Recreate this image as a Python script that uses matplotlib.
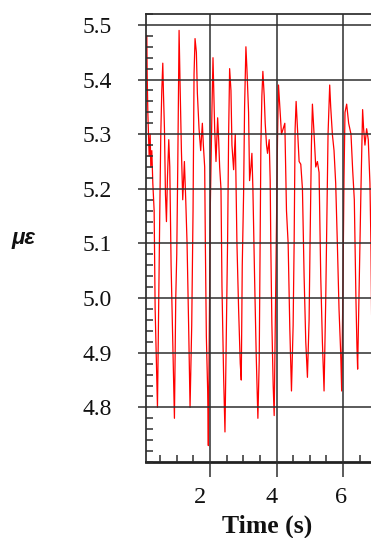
import matplotlib
matplotlib.use("Agg")
import matplotlib.pyplot as plt
import matplotlib.transforms as mtransforms
from matplotlib.ticker import MultipleLocator, FormatStrFormatter

# ---- data ----
time_s = [0.10, 0.11, 0.13, 0.15, 0.17, 0.20, 0.22, 0.25, 0.28, 0.32, 0.35, 0.39, 0.42, 0.45, 0.49,
          0.52, 0.55, 0.58, 0.60, 0.63, 0.66, 0.69, 0.72, 0.76, 0.79, 0.83, 0.88, 0.93, 0.97, 1.00,
          1.03, 1.07, 1.10, 1.14, 1.18, 1.23, 1.27, 1.31, 1.36, 1.40, 1.45, 1.49, 1.52, 1.55, 1.59,
          1.62, 1.67, 1.72, 1.77, 1.80, 1.84, 1.86, 1.89, 1.93, 1.95, 1.99, 2.01, 2.06, 2.09, 2.11,
          2.14, 2.18, 2.23, 2.26, 2.29, 2.33, 2.36, 2.41, 2.45, 2.49, 2.53, 2.56, 2.59, 2.63, 2.66,
          2.71, 2.76, 2.81, 2.86, 2.91, 2.94, 2.97, 3.01, 3.04, 3.08, 3.11, 3.16, 3.19, 3.23, 3.26,
          3.29, 3.34, 3.39, 3.44, 3.48, 3.51, 3.53, 3.56, 3.59, 3.63, 3.66, 3.70, 3.73, 3.78, 3.81,
          3.83, 3.86, 3.90, 3.93, 3.98, 4.03, 4.06, 4.10, 4.15, 4.20, 4.25, 4.30, 4.35, 4.40, 4.43,
          4.45, 4.50, 4.53, 4.56, 4.59, 4.63, 4.68, 4.73, 4.78, 4.83, 4.88, 4.93, 4.98, 5.01, 5.05,
          5.08, 5.13, 5.18, 5.23, 5.28, 5.33, 5.38, 5.43, 5.48, 5.51, 5.55, 5.60, 5.63, 5.68, 5.73,
          5.78, 5.83, 5.88, 5.93, 5.96, 6.00, 6.03, 6.06, 6.11, 6.17, 6.24, 6.29, 6.34, 6.39, 6.42,
          6.44, 6.49, 6.54, 6.59, 6.62, 6.66, 6.71, 6.76, 6.81, 6.84, 6.86]
strain = [5.48, 5.41, 5.34, 5.30, 5.26, 5.30, 5.24, 5.27, 5.21, 5.16, 4.98, 4.88, 4.80, 4.96, 5.16,
          5.30, 5.38, 5.43, 5.375, 5.31, 5.19, 5.14, 5.22, 5.29, 5.24, 5.06, 4.92, 4.78, 5.00, 5.08,
          5.24, 5.49, 5.39, 5.27, 5.18, 5.25, 5.18, 5.10, 4.94, 4.80, 4.95, 5.16, 5.41, 5.475, 5.45,
          5.375, 5.31, 5.27, 5.32, 5.28, 5.24, 5.10, 4.93, 4.83, 4.73, 5.01, 5.17, 5.35, 5.44, 5.39,
          5.31, 5.25, 5.33, 5.29, 5.24, 5.20, 5.02, 4.855, 4.755, 4.93, 5.11, 5.30, 5.42, 5.38, 5.28,
          5.235, 5.30, 5.10, 4.98, 4.88, 4.85, 5.06, 5.19, 5.35, 5.46, 5.42, 5.34, 5.215, 5.24, 5.265,
          5.20, 5.04, 4.895, 4.78, 4.885, 5.11, 5.28, 5.37, 5.415, 5.37, 5.32, 5.28, 5.265, 5.29, 5.215,
          5.09, 4.955, 4.84, 4.785, 5.045, 5.29, 5.39, 5.35, 5.30, 5.31, 5.32, 5.16, 5.10, 4.945, 4.875,
          4.83, 4.95, 5.10, 5.31, 5.36, 5.31, 5.25, 5.245, 5.20, 5.04, 4.92, 4.855, 4.96, 5.105, 5.28,
          5.355, 5.30, 5.24, 5.25, 5.23, 5.04, 4.92, 4.83, 4.995, 5.13, 5.30, 5.39, 5.35, 5.30, 5.27,
          5.21, 5.10, 4.98, 4.90, 4.83, 5.03, 5.22, 5.34, 5.355, 5.32, 5.30, 5.235, 5.18, 4.995, 4.91,
          4.87, 5.04, 5.20, 5.345, 5.31, 5.28, 5.31, 5.29, 5.21, 5.10, 4.97]

y_ticks = [4.8, 4.9, 5.0, 5.1, 5.2, 5.3, 5.4, 5.5]
x_ticks = [2, 4, 6]
x_label = "Time (s)"
y_label = "με"

# ---- figure ----
W, H = 371, 538
fig = plt.figure(figsize=(W / 100, H / 100), dpi=100)
left_px, right_px, top_px, bottom_px = 145.5, 371, 14, 462
ax = fig.add_axes([left_px / W, 1 - bottom_px / H, (right_px - left_px) / W, (bottom_px - top_px) / H])

ax.plot(time_s, strain, color="red", lw=0.9, zorder=1)

px_per_s = 33.25
x0 = 0.06
ax.set_xlim(x0, x0 + (right_px - left_px) / px_per_s)
ax.set_ylim(4.70, 5.52)

ax.set_xticks(x_ticks)
ax.set_yticks(y_ticks)
ax.xaxis.set_minor_locator(MultipleLocator(0.5))
ax.yaxis.set_minor_locator(MultipleLocator(0.02))
ax.yaxis.set_major_formatter(FormatStrFormatter("%.1f"))
ax.xaxis.set_major_formatter(FormatStrFormatter("%d"))

ax.set_axisbelow(False)
ax.grid(True, which="major", color="#2e2e2e", lw=1.1, zorder=3)

ax.spines["right"].set_visible(False)
for s in ("left", "top"):
    ax.spines[s].set_linewidth(1.2)
    ax.spines[s].set_color("#222222")
ax.spines["bottom"].set_linewidth(2.0)
ax.spines["bottom"].set_color("#222222")

ax.tick_params(axis="x", which="major", direction="out", length=11, width=1.1,
               color="#2e2e2e", pad=7, labelsize=17.5)
ax.tick_params(axis="x", which="minor", direction="in", length=5, width=1.1, color="#2e2e2e")
ax.tick_params(axis="y", which="major", direction="out", length=6, width=1.1,
               color="#2e2e2e", pad=18, labelsize=17)
ax.tick_params(axis="y", which="minor", direction="in", length=5, width=1.1, color="#2e2e2e")
ax.tick_params(top=False, right=False, which="both")

for lab in ax.get_xticklabels() + ax.get_yticklabels():
    lab.set_fontfamily("Liberation Serif")
    lab.set_color("#111111")

# small horizontal offsets of the x tick labels seen in the reference (pixels)
x_label_shift_px = [-10, -4.5, -2]
for lab, dx in zip(ax.get_xticklabels(), x_label_shift_px):
    lab.set_transform(lab.get_transform() + mtransforms.ScaledTranslation(dx / 100, 0, fig.dpi_scale_trans))

ax.set_xlabel(x_label, fontfamily="Liberation Serif", fontweight="bold", fontsize=18.5, color="#111111")
ax.xaxis.set_label_coords((267 - left_px) / (right_px - left_px), (bottom_px - 515) / (bottom_px - top_px))

fig.text(12 / W, 1 - 239 / H, y_label, fontfamily="Liberation Sans", fontweight="bold",
         fontstyle="italic", fontsize=16, ha="left", va="center", color="#111111")

fig.savefig("out.png", dpi=100)
